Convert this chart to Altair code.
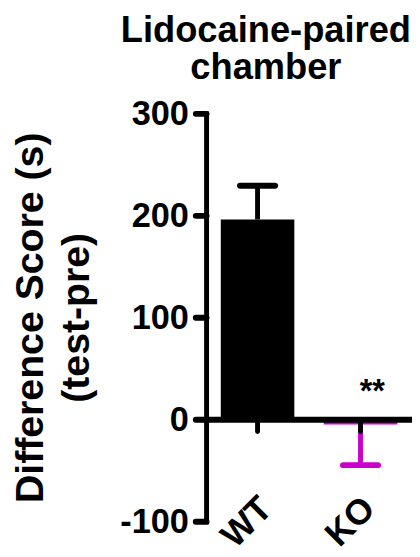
import altair as alt
import pandas as pd

# ---- data ----
groups = ["WT", "KO"]
means = [196, -5]
sems = [33, 40]
bar_colors = ["#000000", "#CC00CC"]
sig_labels = ["", "**"]
sig_y = [None, 17]
y_ticks = [-100, 0, 100, 200, 300]

# error bars point away from zero (GraphPad style)
err_end = [m + (s if m >= 0 else -s) for m, s in zip(means, sems)]

df = pd.DataFrame({
    "group": groups,
    "mean": means,
    "end": err_end,
    "color": bar_colors,
    "sig": sig_labels,
    "sig_y": sig_y,
})

FONT = "Liberation Sans"

x_enc = alt.X(
    "group:N",
    sort=groups,
    scale=alt.Scale(paddingInner=0, paddingOuter=0),
    axis=alt.Axis(
        title=None,
        orient="bottom",
        offset=-104,
        labelAngle=-45,
        labelFont=FONT,
        labelFontSize=36,
        labelFontWeight="bold",
        labelColor="black",
        labelPadding=61,
        labelOffset=-3,
        tickSize=12,
        tickWidth=5,
        tickCap="round",
        tickColor="black",
        domainColor="black",
        domainWidth=6,
        zindex=1,
    ),
)

y_scale = alt.Scale(domain=[-100, 300], nice=False, zero=False)
y_axis = alt.Axis(
    title=["Difference Score (s)", "(test-pre)"],
    titleFont=FONT,
    titleFontSize=40,
    titleFontWeight="bold",
    titleColor="black",
    titleLineHeight=47,
    titlePadding=24,
    values=y_ticks,
    labelExpr="'' + datum.value",
    labelFont=FONT,
    labelFontSize=35,
    labelFontWeight="bold",
    labelColor="black",
    labelPadding=7,
    tickSize=11,
    tickWidth=6,
    tickCap="round",
    tickColor="black",
    domainColor="black",
    domainWidth=5,
    domainCap="square",
    grid=False,
    zindex=1,
)

base = alt.Chart(df).encode(x=x_enc)

bars = base.mark_bar(size=75).encode(
    y=alt.Y("mean:Q", scale=y_scale, axis=y_axis),
    color=alt.Color("color:N", scale=None),
)

stems = base.mark_rule(strokeWidth=5).encode(
    y="mean:Q",
    y2="end:Q",
    color=alt.Color("color:N", scale=None),
)

caps = base.mark_tick(size=42, thickness=6, cornerRadius=3, opacity=1).encode(
    y="end:Q",
    color=alt.Color("color:N", scale=None),
)

stars = base.mark_text(
    font=FONT, fontSize=33, fontWeight="bold", color="black",
    baseline="alphabetic", dx=12,
).encode(
    y="sig_y:Q",
    text="sig:N",
)

chart = (
    alt.layer(bars, stems, caps, stars)
    .properties(
        width=210,
        height=416,
        padding={"left": 202, "top": 102, "right": 0, "bottom": 31},
        autosize=alt.AutoSizeParams(type="none"),
        title=alt.TitleParams(
            text=["Lidocaine-paired", "chamber"],
            font=FONT,
            fontSize=37,
            fontWeight="bold",
            color="black",
            lineHeight=38,
            anchor="middle",
            frame="group",
            dx=-44,
            dy=-6,
        ),
    )
    .configure_view(stroke=None)
)

chart.save("out.html", embed_options={"renderer": "svg", "actions": False})
